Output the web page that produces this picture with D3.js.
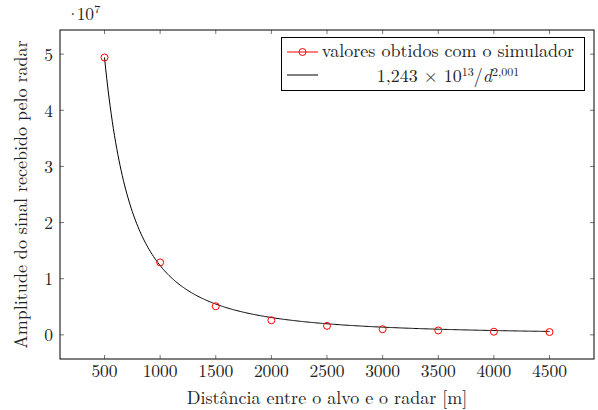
<!DOCTYPE html>
<html>
<head>
<meta charset="utf-8">
<script src="https://cdn.jsdelivr.net/npm/d3@7"></script>
<style>
  body { margin: 0; background: #fff; }
</style>
</head>
<body>
<div id="chart"></div>
<script>
// measured points (distance in m, amplitude)
const distances = [500, 1000, 1500, 2000, 2500, 3000, 3500, 4000, 4500];
const amplitudes = [4.94e7, 1.29e7, 0.51e7, 0.26e7, 0.16e7, 0.10e7, 0.078e7, 0.056e7, 0.05e7];

// fitted curve from legend: a / d^b
const fitCoef = 1.243e13;
const fitExp = 2.001;

const xTicks = [500, 1000, 1500, 2000, 2500, 3000, 3500, 4000, 4500];
const yTicks = [0, 1, 2, 3, 4, 5]; // in units of 1e7

const W = 598, H = 410;
const pLeft = 60, pRight = 594, pTop = 30, pBottom = 359;
const FONT = "'Latin Modern Roman', 'Liberation Serif', serif";
const FS = 18, TFS = 17.5, SUP = 12;

const svg = d3.select("#chart").append("svg")
    .attr("width", W)
    .attr("height", H)
    .attr("font-family", FONT)
    .attr("fill", "#222");

const x = d3.scaleLinear().domain([100, 4900]).range([pLeft, pRight]);
const y = d3.scaleLinear().domain([-0.43e7, 5.43e7]).range([pBottom, pTop]);

// ticks (inside, mirrored)
const tl = 4;
const g = svg.append("g").attr("stroke", "#555").attr("stroke-width", 0.8);
xTicks.forEach(t => {
    g.append("line").attr("x1", x(t)).attr("x2", x(t)).attr("y1", pBottom).attr("y2", pBottom - tl);
    g.append("line").attr("x1", x(t)).attr("x2", x(t)).attr("y1", pTop).attr("y2", pTop + tl);
});
yTicks.forEach(t => {
    g.append("line").attr("x1", pLeft).attr("x2", pLeft + tl).attr("y1", y(t * 1e7)).attr("y2", y(t * 1e7));
    g.append("line").attr("x1", pRight).attr("x2", pRight - tl).attr("y1", y(t * 1e7)).attr("y2", y(t * 1e7));
});

// tick labels
svg.append("g").selectAll("text").data(xTicks).join("text")
    .attr("x", d => x(d))
    .attr("y", pBottom + 18)
    .attr("text-anchor", "middle")
    .attr("font-size", TFS)
    .text(d => d);

svg.append("g").selectAll("text").data(yTicks).join("text")
    .attr("x", pLeft - 7)
    .attr("y", d => y(d * 1e7) + 6.5)
    .attr("text-anchor", "end")
    .attr("font-size", TFS)
    .text(d => d);

// exponent marker
const ex = svg.append("text").attr("x", 66).attr("y", 20).attr("font-size", TFS);
ex.append("tspan").text("·");
ex.append("tspan").attr("dx", -3).text("10");
ex.append("tspan").attr("font-size", SUP).attr("dy", -7).text("7");

// fitted curve
const curveX = d3.range(500, 4501, 10);
const line = d3.line()
    .x(d => x(d))
    .y(d => y(fitCoef / Math.pow(d, fitExp)));
svg.append("path")
    .datum(curveX)
    .attr("d", line)
    .attr("fill", "none")
    .attr("stroke", "#000")
    .attr("stroke-width", 1);

// markers
svg.append("g").selectAll("circle").data(distances).join("circle")
    .attr("cx", d => x(d))
    .attr("cy", (d, i) => y(amplitudes[i]))
    .attr("r", 3.5)
    .attr("fill", "none")
    .attr("stroke", "red")
    .attr("stroke-width", 1);

// axis box
svg.append("rect")
    .attr("x", pLeft).attr("y", pTop)
    .attr("width", pRight - pLeft).attr("height", pBottom - pTop)
    .attr("fill", "none").attr("stroke", "#000").attr("stroke-width", 1);

// axis titles
svg.append("text")
    .attr("x", (pLeft + pRight) / 2)
    .attr("y", 404)
    .attr("text-anchor", "middle")
    .attr("font-size", FS)
    .text("Distância entre o alvo e o radar [m]");

svg.append("text")
    .attr("transform", `translate(27, ${(pTop + pBottom) / 2}) rotate(-90)`)
    .attr("text-anchor", "middle")
    .attr("font-size", FS)
    .text("Amplitude do sinal recebido pelo radar");

// legend
const lg = svg.append("g");
lg.append("rect")
    .attr("x", 281.5).attr("y", 37.5).attr("width", 303).attr("height", 53)
    .attr("fill", "#fff").attr("stroke", "#000").attr("stroke-width", 1);
lg.append("line").attr("x1", 287).attr("x2", 318).attr("y1", 52).attr("y2", 52)
    .attr("stroke", "red").attr("stroke-width", 1);
lg.append("circle").attr("cx", 302.5).attr("cy", 52).attr("r", 3.5)
    .attr("fill", "none").attr("stroke", "red");
lg.append("line").attr("x1", 287).attr("x2", 318).attr("y1", 75).attr("y2", 75)
    .attr("stroke", "#000").attr("stroke-width", 1);
lg.append("text").attr("x", 448).attr("y", 57).attr("text-anchor", "middle")
    .attr("font-size", FS).text("valores obtidos com o simulador");
const ft = lg.append("text").attr("x", 448).attr("y", 82).attr("text-anchor", "middle")
    .attr("font-size", FS);
ft.append("tspan").text("1,243 × 10");
ft.append("tspan").attr("font-size", SUP).attr("dy", -6).text("13");
ft.append("tspan").attr("dy", 6).text("/");
ft.append("tspan").attr("font-style", "italic").text("d");
ft.append("tspan").attr("font-size", SUP).attr("dy", -6).text("2,001");
</script>
</body>
</html>
